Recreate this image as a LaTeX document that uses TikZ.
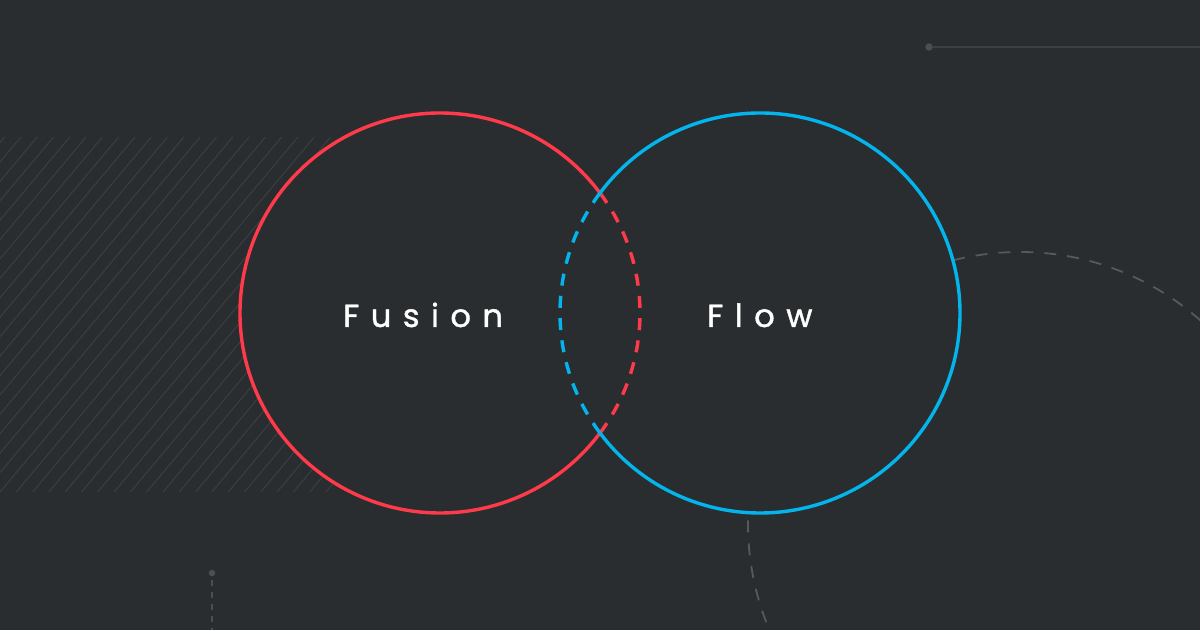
\documentclass[tikz,border=0pt]{standalone}
\usepackage{fontspec}
\setmainfont{Poppins}
\usetikzlibrary{positioning,calc}

\definecolor{bgdark}{HTML}{2A2D2F}
\definecolor{fusionred}{HTML}{FF3B4B}
\definecolor{flowblue}{HTML}{03B5EC}
\definecolor{hatchgray}{HTML}{3D4043}
\definecolor{linegray}{HTML}{3C3F44}
\definecolor{dotgray}{HTML}{4B4E53}
\definecolor{arcgray}{HTML}{56595D}

\begin{document}
\begin{tikzpicture}
[x=1pt, y=1pt,
hatch/.style={draw=hatchgray, line width=0.9pt},
ring/.style={line width=3.4pt},
ringdash/.style={line width=3.4pt, dash pattern=on 12pt off 10.3pt},
guide/.style={draw=arcgray, line width=1.8pt, dash pattern=on 12pt off 11pt},
rail/.style={draw=linegray, line width=1.6pt},
dot/.style={circle, fill=dotgray, inner sep=0pt, minimum size=7.5pt},
title/.style={text=white, font=\fontsize{32}{36}\selectfont\addfontfeature{LetterSpace=36,FakeBold=1.2}, inner sep=0pt}
]

% background
\fill[bgdark] (0,0) rectangle (1200,630);
\useasboundingbox (0,0) rectangle (1200,630);

% hatched block
\begin{scope}
\clip (0,138) rectangle (335,493);
\foreach \i in {-20,...,22}
  \draw[hatch] (16.3*\i,138) -- (16.3*\i+298,493);
\end{scope}

% big dashed guide circle
\coordinate (gc) at (1020,106);
\draw[guide] (gc) circle[radius=272];

% centres
\coordinate (rc) at (440,317);
\coordinate (bc) at (760,317);

\fill[bgdark] (rc) circle[radius=200];
\fill[bgdark] (bc) circle[radius=200];

% red ring
\draw[ring, fusionred] ($(rc)+(36.87:200)$) arc[start angle=36.87, end angle=323.13, radius=200];
\draw[ringdash, fusionred] ($(rc)+(-36.87:200)$) arc[start angle=-36.87, end angle=36.87, radius=200];

% blue ring
\draw[ring, flowblue] ($(bc)+(143.13:200)$) arc[start angle=143.13, end angle=-143.13, radius=200];
\draw[ringdash, flowblue] ($(bc)+(143.13:200)$) arc[start angle=143.13, end angle=216.87, radius=200];

% top right rail
\node[dot] (raildot) at (929,583) {};
\coordinate (railend) at (1200,583);
\draw[rail] (raildot) -- (railend);

% bottom left dashed stub
\node[dot, minimum size=6.5pt] (stubdot) at (212,57) {};
\coordinate (stubend) at (212,0);
\draw[draw=dotgray, line width=1.4pt, dash pattern=on 6pt off 6pt] ([yshift=-4pt]stubdot.south) -- (stubend);

% labels
\node[title, anchor=base west] (fusion) at (343,303) {Fusion};
\node[title, anchor=base west] (flow) at (707,303) {Flow};
\end{tikzpicture}
\end{document}
